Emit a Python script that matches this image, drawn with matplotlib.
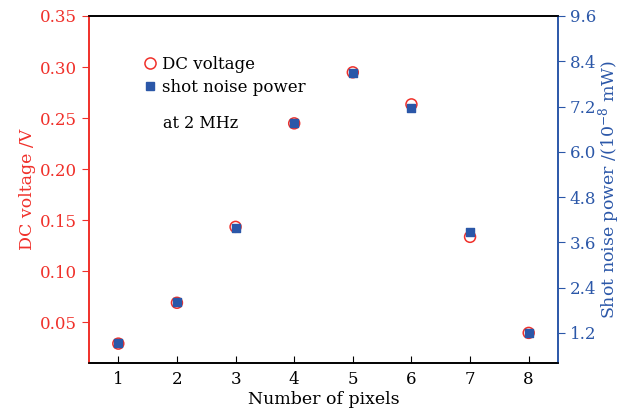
import matplotlib
matplotlib.use("Agg")
import matplotlib.pyplot as plt
from matplotlib.lines import Line2D

pixels = [1, 2, 3, 4, 5, 6, 7, 8]
dc_voltage = [0.029, 0.069, 0.1434, 0.2448, 0.2948, 0.2634, 0.1336, 0.0395]
shot_noise = [0.93, 2.01, 3.98, 6.75, 8.10, 7.15, 3.88, 1.19]
left_ticks = [0.05, 0.10, 0.15, 0.20, 0.25, 0.30, 0.35]
right_ticks = [1.2, 2.4, 3.6, 4.8, 6.0, 7.2, 8.4, 9.6]

RED = "#f0302a"
BLUE = "#2b57a8"

plt.rcParams['font.family'] = ['DejaVu Serif']
plt.rcParams['mathtext.fontset'] = 'dejavuserif'

fig = plt.figure(figsize=(6.31, 4.11), dpi=100)
ax = fig.add_axes([89/631, 1-363/411, (558-89)/631, (363-16)/411])
ax2 = ax.twinx()

ax.scatter(pixels, dc_voltage, s=62, facecolors='none', edgecolors=RED, linewidths=1.1, zorder=3)
ax2.scatter(pixels, shot_noise, s=30, marker='s', color=BLUE, zorder=4)

ax.set_xlim(0.5, 8.5)
ax.set_ylim(0.01, 0.35)
ax2.set_ylim(0.4, 9.6)
ax.set_xticks(pixels)
ax.set_yticks(left_ticks)
ax.set_yticklabels([f"{v:.2f}" for v in left_ticks])
ax2.set_yticks(right_ticks)
ax2.set_yticklabels([f"{v:.1f}" for v in right_ticks])

ax.tick_params(axis='x', direction='in', length=5, labelsize=12, colors='black', pad=6)
ax.tick_params(axis='y', direction='out', length=5, labelsize=12, colors=RED)
ax2.tick_params(axis='y', direction='out', length=5, labelsize=12, colors=BLUE)

for a in (ax, ax2):
    a.spines['left'].set_color(RED)
    a.spines['right'].set_color(BLUE)
    a.spines['top'].set_color('black')
    a.spines['bottom'].set_color('black')
    for s in a.spines.values():
        s.set_linewidth(1.2)

ax.set_xlabel("Number of pixels", fontsize=12.5, labelpad=2)
ax.set_ylabel("DC voltage /V", fontsize=12.5, color=RED, labelpad=3)
ax2.set_ylabel(r"Shot noise power /(10$^{-8}$ mW)", fontsize=12.5, color=BLUE, labelpad=0)

handles = [Line2D([], [], marker='o', linestyle='none', markerfacecolor='none',
                  markeredgecolor=RED, markersize=8, markeredgewidth=1.1),
           Line2D([], [], marker='s', linestyle='none', color=BLUE, markersize=5.5)]
leg = ax.legend(handles, ["DC voltage", "shot noise power"], loc='upper left',
                bbox_to_anchor=(0.098, 0.905), frameon=False, fontsize=12,
                handletextpad=0.25, handlelength=1.0, labelspacing=0.38, borderaxespad=0)
ax.text(0.157, 0.69, "at 2 MHz", transform=ax.transAxes, fontsize=11.5, va='center')

fig.savefig("out.png", dpi=100)
